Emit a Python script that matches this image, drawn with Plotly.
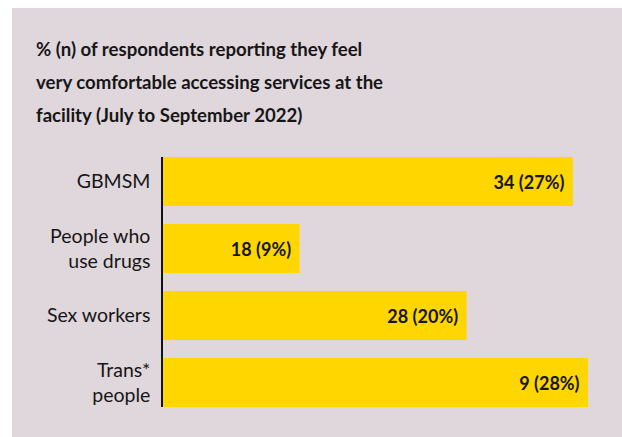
import plotly.graph_objects as go

categories = ["GBMSM", "People who<br>use drugs", "Sex workers", "Trans*<br>people"]
percent = [27, 9, 20, 28]
counts = [34, 18, 28, 9]
title_lines = [
    "% (n) of respondents reporting they feel",
    "very comfortable accessing services at the",
    "facility (July to September 2022)",
]

BAR = "#FFD600"
PANEL = "#E0D7DC"
TXT = "#161616"

W, H = 622, 437
L, R, T, B = 163, 4, 157, 30
pw, ph = W - L - R, H - T - B

def px_x(x):
    return (x - L) / pw

def px_y(y):
    return 1 + (T - y) / ph

labels = [f"{c} ({p}%)\u00a0\u200a" for c, p in zip(counts, percent)]

fig = go.Figure(go.Bar(
    x=percent, y=categories, orientation="h",
    marker=dict(color=BAR, line=dict(width=0)),
    text=labels, textposition="inside", insidetextanchor="end",
    textangle=0,
    textfont=dict(family="Lato, sans-serif", size=18, color=TXT, weight="bold"),
    hoverinfo="skip",
))

g = 0.2687
half = (1 - g) / 2

fig.update_layout(
    width=W, height=H,
    margin=dict(l=L, r=R, t=T, b=B, pad=0),
    paper_bgcolor="white", plot_bgcolor=PANEL,
    bargap=g, showlegend=False,
    xaxis=dict(range=[0, pw / 15.18], visible=False, showgrid=False, zeroline=False),
    yaxis=dict(type="category", range=[3 + half, -half], showline=True,
               linecolor="#111", linewidth=1.5, ticks="", showgrid=False,
               zeroline=False, ticklabelstandoff=7,
               tickfont=dict(family="Lato, sans-serif", size=19.5, color=TXT)),
    shapes=[dict(type="rect", xref="paper", yref="paper",
                 x0=px_x(12), x1=px_x(W + 20), y0=px_y(H + 20), y1=px_y(8),
                 fillcolor=PANEL, line=dict(width=0), layer="below")],
)

for i, line in enumerate(title_lines):
    fig.add_annotation(text=line, xref="paper", yref="paper",
                       x=px_x(34), y=px_y(49 + 33 * i), xanchor="left", yanchor="middle",
                       showarrow=False,
                       font=dict(family="Lato, sans-serif", size=18.6, color=TXT, weight="bold"))

fig.write_html("out.html")
